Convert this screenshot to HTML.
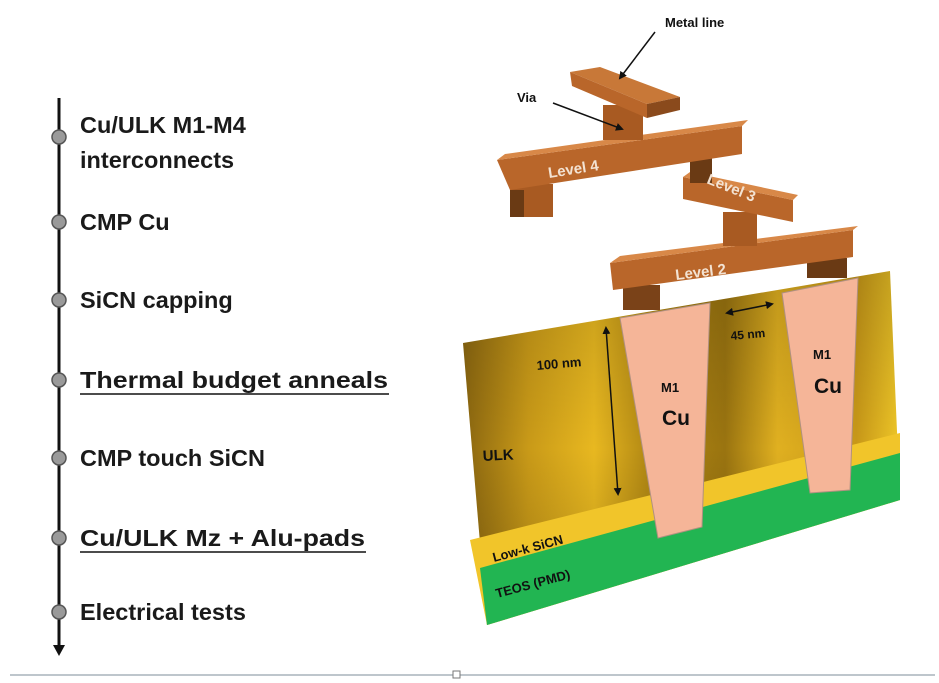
<!DOCTYPE html>
<html><head><meta charset="utf-8"><style>
body{margin:0;background:#fff;width:939px;height:683px;overflow:hidden}
svg{display:block}
.t{font-family:"Liberation Sans",sans-serif;font-weight:bold;font-size:23.5px;fill:#1a1a1a}
.s{font-family:"Liberation Sans",sans-serif;font-weight:bold;fill:#111}
.w{font-family:"Liberation Sans",sans-serif;font-weight:bold;fill:#f3e3d3;font-size:15px}
</style></head><body>
<svg width="939" height="683" viewBox="0 0 939 683">
<defs>
<linearGradient id="ulk" x1="0" y1="0" x2="1" y2="0">
<stop offset="0" stop-color="#8a6610"/><stop offset="0.15" stop-color="#c99a18"/><stop offset="0.3" stop-color="#e8b820"/>
<stop offset="0.42" stop-color="#b48a14"/><stop offset="0.6" stop-color="#9a7410"/><stop offset="0.72" stop-color="#e0b020"/>
<stop offset="0.9" stop-color="#c89818"/><stop offset="1" stop-color="#f0c828"/>
</linearGradient>
<linearGradient id="shade" x1="0" y1="0" x2="0" y2="1">
<stop offset="0" stop-color="#000" stop-opacity="0.15"/><stop offset="0.5" stop-color="#000" stop-opacity="0"/><stop offset="1" stop-color="#000" stop-opacity="0.2"/>
</linearGradient>
<marker id="ah" markerWidth="8" markerHeight="8" refX="6" refY="4" orient="auto" markerUnits="userSpaceOnUse"><path d="M0,0L8,4L0,8z" fill="#111"/></marker>
<marker id="as" markerWidth="8" markerHeight="8" refX="2" refY="4" orient="auto" markerUnits="userSpaceOnUse"><path d="M8,0L0,4L8,8z" fill="#111"/></marker>
</defs>

<line x1="59" y1="98" x2="59" y2="648" stroke="#111" stroke-width="3"/>
<path d="M53,645L65,645L59,656z" fill="#111"/>
<g fill="#9a9a9a" stroke="#555" stroke-width="1.5">
<circle cx="59" cy="137" r="7"/><circle cx="59" cy="222" r="7"/><circle cx="59" cy="300" r="7"/>
<circle cx="59" cy="380" r="7"/><circle cx="59" cy="458" r="7"/><circle cx="59" cy="538" r="7"/><circle cx="59" cy="612" r="7"/>
</g>
<text class="t" x="80" y="133">Cu/ULK M1-M4</text>
<text class="t" x="80" y="168">interconnects</text>
<text class="t" x="80" y="230">CMP Cu</text>
<text class="t" x="80" y="308">SiCN capping</text>
<text class="t" x="80" y="388" textLength="308" lengthAdjust="spacingAndGlyphs">Thermal budget anneals</text>
<line x1="80" y1="394" x2="389" y2="394" stroke="#111" stroke-width="1.5"/>
<text class="t" x="80" y="466">CMP touch SiCN</text>
<text class="t" x="80" y="546" textLength="285" lengthAdjust="spacingAndGlyphs">Cu/ULK Mz + Alu-pads</text>
<line x1="80" y1="552" x2="366" y2="552" stroke="#111" stroke-width="1.5"/>
<text class="t" x="80" y="620">Electrical tests</text>

<line x1="10" y1="675" x2="935" y2="675" stroke="#a8b4bc" stroke-width="1.5"/>
<rect x="453" y="671" width="7" height="7" fill="#fff" stroke="#777" stroke-width="1"/>

<polygon points="463,343 890,271 900,500 487,625" fill="url(#ulk)"/>
<polygon points="463,343 890,271 900,500 487,625" fill="url(#shade)"/>
<polygon points="470,540 900,433 900,500 487,625" fill="#f1c52a"/>
<polygon points="480,568 900,453 900,500 487,625" fill="#22b552"/>
<polygon points="620,318 710,303 702,527 658,538" fill="#f5b598" stroke="#b09080" stroke-width="1"/>
<polygon points="782,293 858,278 850,490 810,493" fill="#f5b598" stroke="#b09080" stroke-width="1"/>

<g>
<rect x="623" y="285" width="37" height="25" fill="#7a4218"/>
<rect x="807" y="258" width="40" height="20" fill="#6a3a14"/>
<polygon points="610,263 853,230 853,257 613,290" fill="#b9662a"/>
<polygon points="610,263 620,256 858,226 853,230" fill="#d88848"/>
<rect x="723" y="212" width="34" height="34" fill="#a85a22"/>
<polygon points="683,177 793,200 793,222 683,199" fill="#b9662a"/>
<polygon points="683,177 690,172 798,195 793,200" fill="#d88848"/>
<rect x="690" y="158" width="22" height="25" fill="#6a3a14"/>
<rect x="510" y="184" width="43" height="33" fill="#a85a22"/>
<rect x="510" y="190" width="14" height="27" fill="#6a3a14"/>
<polygon points="497,160 742,126 742,154 510,190" fill="#b9662a"/>
<polygon points="497,160 505,154 748,120 742,126" fill="#d88848"/>
<rect x="603" y="105" width="40" height="35" fill="#a85a22"/>
<polygon points="570,72 647,104 680,97 600,67" fill="#c87838"/>
<polygon points="570,72 647,104 647,118 572,86" fill="#b9662a"/>
<polygon points="647,104 680,97 680,110 647,118" fill="#8a4a1c"/>
</g>
<text class="w" transform="translate(549,178) rotate(-9)">Level 4</text>
<text class="w" font-size="13" transform="translate(706,183) rotate(22)">Level 3</text>
<text class="w" transform="translate(676,280) rotate(-7)">Level 2</text>

<text class="s" font-size="13" x="665" y="27">Metal line</text>
<line x1="655" y1="32" x2="620" y2="78" stroke="#111" stroke-width="1.5" marker-end="url(#ah)"/>
<text class="s" font-size="13" x="517" y="102">Via</text>
<line x1="553" y1="103" x2="622" y2="129" stroke="#111" stroke-width="1.5" marker-end="url(#ah)"/>

<line x1="606" y1="328" x2="618" y2="494" stroke="#111" stroke-width="1.5" marker-start="url(#as)" marker-end="url(#ah)"/>
<line x1="727" y1="313" x2="772" y2="304" stroke="#111" stroke-width="1.5" marker-start="url(#as)" marker-end="url(#ah)"/>
<text class="s" font-size="13" transform="translate(537,370) rotate(-5)">100 nm</text>
<text class="s" font-size="12" transform="translate(731,340) rotate(-5)">45 nm</text>
<text class="s" font-size="13" x="661" y="392">M1</text>
<text class="s" font-size="21" x="662" y="425">Cu</text>
<text class="s" font-size="13" x="813" y="359">M1</text>
<text class="s" font-size="21" x="814" y="393">Cu</text>
<text class="s" font-size="15" transform="translate(483,461) rotate(-3)">ULK</text>
<text class="s" font-size="13" transform="translate(494,562) rotate(-15)">Low-k SiCN</text>
<text class="s" font-size="13" transform="translate(497,598) rotate(-15)">TEOS (PMD)</text>
</svg>
</body></html>
